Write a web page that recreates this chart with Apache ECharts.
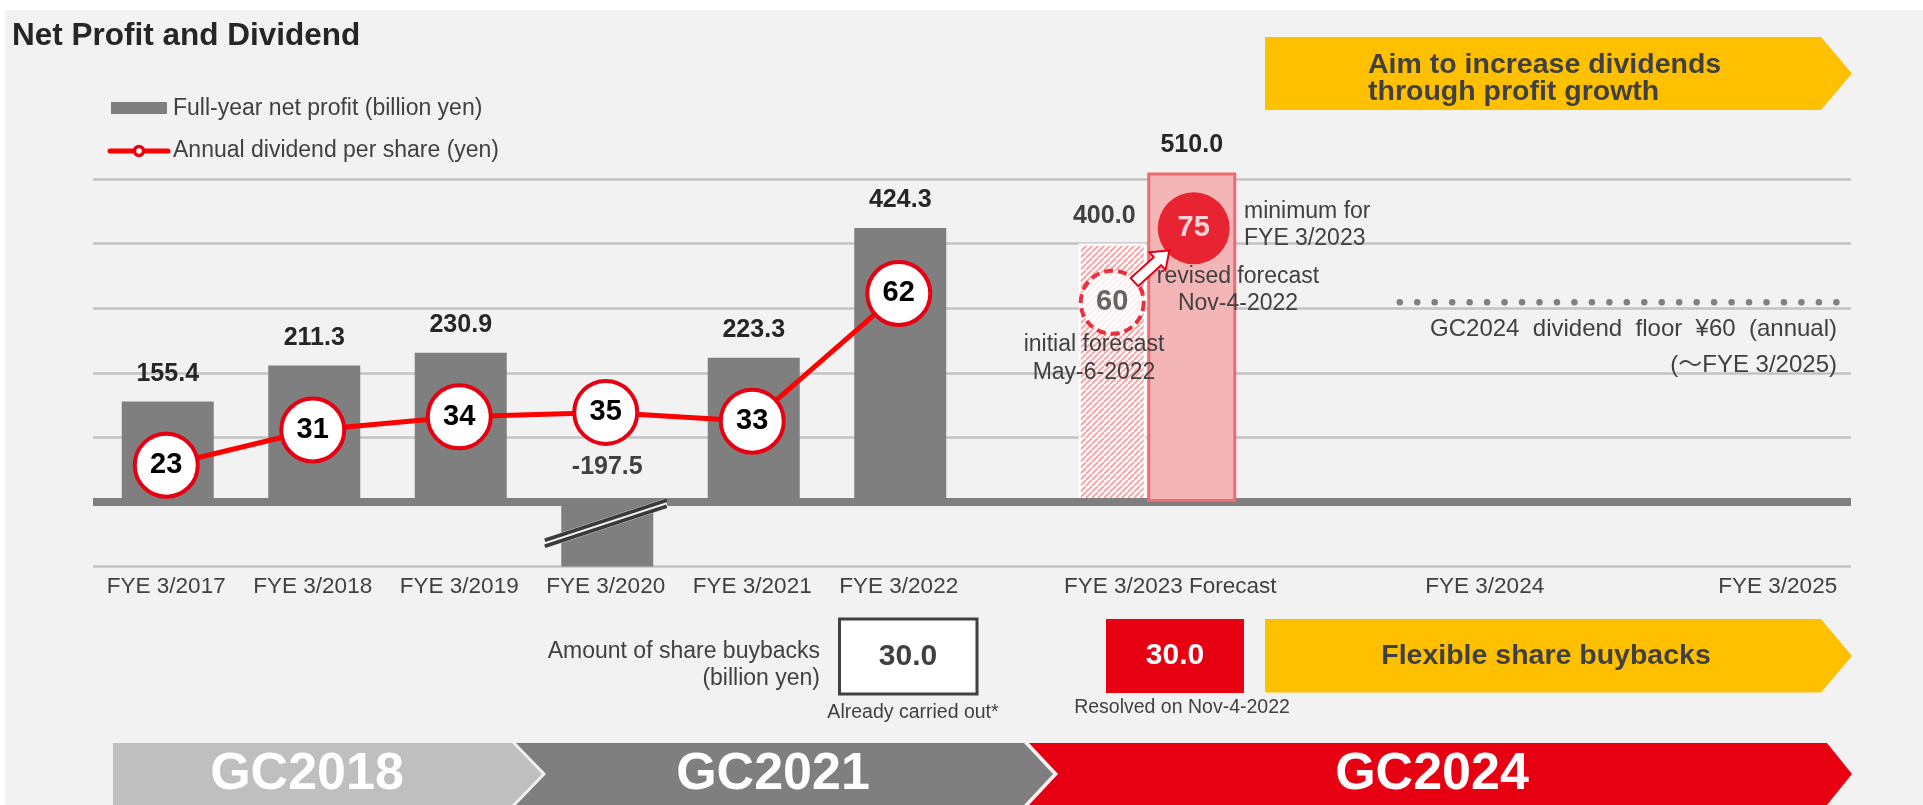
<!DOCTYPE html>
<html><head><meta charset="utf-8">
<script src="https://cdn.jsdelivr.net/npm/echarts@6/dist/echarts.min.js"></script>
<style>html,body{margin:0;padding:0;background:#fff;}#c{width:1923px;height:805px;}</style>
</head><body><div id="c"></div>
<script>
// ---------- data ----------
const categories = ['FYE 3/2017','FYE 3/2018','FYE 3/2019','FYE 3/2020','FYE 3/2021','FYE 3/2022','','FYE 3/2023 Forecast','','FYE 3/2024','','FYE 3/2025'];
const netProfit       = [155.4, 211.3, 230.9, -197.5, 223.3, 424.3, '-', '-', '-', '-', '-', '-'];
const profitRevised   = ['-', '-', '-', '-', '-', '-', '-', 510.0, '-', '-', '-', '-'];
const profitInitial   = ['-', '-', '-', '-', '-', '-', '-', 400.0, '-', '-', '-', '-'];
const dividend        = [23, 31, 34, 35, 33, 62, '-', '-', '-', '-', '-', '-'];
const dividendRevised = ['-', '-', '-', '-', '-', '-', '-', 75, '-', '-', '-', '-'];
const dividendInitial = ['-', '-', '-', '-', '-', '-', '-', 60, '-', '-', '-', '-'];
const dividendFloor = 60;
const buybackDone = 30.0;
const buybackResolved = 30.0;
const profitScale = {min: -100, max: 500, interval: 100};
const dividendScale = {min: 0, max: 88};
const periods = ['GC2018', 'GC2021', 'GC2024'];

// ---------- styles ----------
const FF = "'Liberation Sans', Arial, 'Noto Sans CJK JP', sans-serif";
const TXT = '#404040', DK = '#262626', RED = '#E60012';

function hatchPattern() {
  const s = 6, c = document.createElement('canvas');
  c.width = c.height = s;
  const g = c.getContext('2d');
  g.fillStyle = '#fff'; g.fillRect(0, 0, s, s);
  g.strokeStyle = '#F4A8AB'; g.lineWidth = 2;
  g.beginPath();
  for (const k of [-s, 0, s]) { g.moveTo(k, s); g.lineTo(k + s, 0); }
  g.stroke();
  return c;
}

const chart = echarts.init(document.getElementById('c'), null, {renderer: 'canvas'});
const gridBox = {top: 179, bottom: 238.5};
const profitData = netProfit.map(v => (typeof v === 'number' && v < 0)
  ? {value: v, label: {color: TXT, distance: 22}} : v);

const option = {
  animation: false,
  textStyle: {fontFamily: FF},
  grid: [
    {left: 93, right: 72, top: gridBox.top, bottom: gridBox.bottom},
    {left: 13.5, right: 151.5, top: gridBox.top, bottom: gridBox.bottom}
  ],
  xAxis: [
    {type: 'category', gridIndex: 0, data: categories,
     axisLine: {show: false}, axisTick: {show: false}, splitLine: {show: false},
     axisLabel: {interval: 0, margin: 9, fontSize: 22.5, color: TXT, fontFamily: FF,
       formatter: (v, i) => i === 7 ? '{s|' + v + '}' : v,
       rich: {s: {fontSize: 22.5, color: TXT, fontFamily: FF, padding: [0, 43, 0, 0]}}}},
    {type: 'category', gridIndex: 1, data: categories, show: false}
  ],
  yAxis: [
    {type: 'value', gridIndex: 0, min: profitScale.min, max: profitScale.max, interval: profitScale.interval,
     axisLabel: {show: false}, axisLine: {show: false}, axisTick: {show: false},
     splitLine: {lineStyle: {color: '#C3C3C3', width: 2.6}}},
    {type: 'value', gridIndex: 0, min: dividendScale.min, max: dividendScale.max, show: false, splitLine: {show: false}},
    {type: 'value', gridIndex: 1, min: profitScale.min, max: profitScale.max, show: false, splitLine: {show: false}},
    {type: 'value', gridIndex: 1, min: dividendScale.min, max: dividendScale.max, show: false, splitLine: {show: false}}
  ],
  series: [
    {name: 'Full-year net profit (billion yen)', type: 'bar', xAxisIndex: 1, yAxisIndex: 2, z: 1,
     data: profitInitial, barWidth: 67,
     itemStyle: {color: {image: hatchPattern(), repeat: 'repeat'}, borderColor: '#fff', borderWidth: 2},
     label: {show: true, position: 'top', distance: 15, offset: [-8, 0], fontSize: 25, fontWeight: 'bold', color: TXT,
             fontFamily: FF, formatter: p => Number(p.value).toFixed(1)}},
    {name: 'Full-year net profit (billion yen)', type: 'bar', xAxisIndex: 0, yAxisIndex: 0, z: 2,
     data: profitData, barWidth: 92, barGap: '-100%', clip: true,
     itemStyle: {color: '#7F7F7F'},
     label: {show: true, position: 'top', distance: 15, fontSize: 25, fontWeight: 'bold', color: DK,
             fontFamily: FF, formatter: p => Number(p.value).toFixed(1)},
     markLine: {silent: true, symbol: 'none', label: {show: false}, z: 3,
       lineStyle: {color: '#7F7F7F', width: 8, type: 'solid'}, data: [{yAxis: 0}]}},
    {name: 'revised', type: 'bar', xAxisIndex: 0, yAxisIndex: 0, z: 3,
     data: profitRevised, barWidth: 89, barGap: '-100%', clip: false,
     itemStyle: {color: '#F4B5B6', borderColor: '#EB6C71', borderWidth: 3},
     label: {show: true, position: 'top', distance: 15, fontSize: 25, fontWeight: 'bold', color: DK,
             fontFamily: FF, formatter: p => Number(p.value).toFixed(1)}},
    {name: 'Annual dividend per share (yen)', type: 'line', xAxisIndex: 0, yAxisIndex: 1, z: 6,
     data: dividend, symbol: 'circle', symbolSize: 63,
     lineStyle: {color: '#FF0000', width: 5},
     itemStyle: {color: '#fff', borderColor: RED, borderWidth: 4},
     label: {show: true, position: 'inside', fontSize: 29, fontWeight: 'bold', color: '#000', fontFamily: FF}},
    {name: 'initialDiv', type: 'scatter', xAxisIndex: 1, yAxisIndex: 3, z: 6,
     data: dividendInitial, symbol: 'circle', symbolSize: 63,
     itemStyle: {color: '#fff', borderColor: RED, borderWidth: 4, borderType: [9, 5]},
     label: {show: true, position: 'inside', fontSize: 29, fontWeight: 'bold', color: TXT, fontFamily: FF}},
    {name: 'revisedDiv', type: 'scatter', xAxisIndex: 0, yAxisIndex: 1, z: 7,
     data: dividendRevised, symbol: 'circle', symbolSize: 72, symbolOffset: [2, -8],
     itemStyle: {color: RED},
     label: {show: true, position: 'inside', fontSize: 29, fontWeight: 'bold', color: '#fff', fontFamily: FF}}
  ]
};
chart.setOption(option);

// ---------- annotations ----------
function T(x, y, text, o) {
  o = o || {};
  const size = o.size || 23, weight = o.weight || 'normal', al = o.align || 'left';
  return {type: 'text', x: x, y: y, z: o.z || 100, silent: true,
    style: {text: text, fill: o.color || TXT, font: weight + ' ' + size + 'px ' + FF,
      fontSize: size, fontWeight: weight, fontFamily: FF,
      align: al, textAlign: al, verticalAlign: 'middle', textVerticalAlign: 'middle',
      lineHeight: o.lh || Math.round(size * 1.15)}};
}
function poly(points, fill, z) {
  return {type: 'polygon', z: z || 90, silent: true, shape: {points: points}, style: {fill: fill}};
}

const g = [];
// background panel
g.push({type: 'rect', z: -100, silent: true, shape: {x: 5, y: 10, width: 1918, height: 795}, style: {fill: '#F2F2F2'}});
// title
g.push(T(12, 36, 'Net Profit and Dividend', {size: 31.5, weight: 'bold', color: DK}));
// legend
g.push({type: 'rect', z: 100, shape: {x: 111, y: 102, width: 56, height: 12}, style: {fill: '#7F7F7F'}});
g.push(T(173, 108.5, 'Full-year net profit (billion yen)'));
g.push({type: 'line', z: 100, shape: {x1: 110, y1: 151, x2: 168, y2: 151}, style: {stroke: '#FF0000', lineWidth: 5, lineCap: 'round'}});
g.push({type: 'circle', z: 101, shape: {cx: 139, cy: 151, r: 4.5}, style: {fill: '#fff', stroke: RED, lineWidth: 3.5}});
g.push(T(173, 151, 'Annual dividend per share (yen)'));

// break mark on the negative bar
const neg = netProfit.findIndex(v => typeof v === 'number' && v < 0);
const pb = chart.convertToPixel({seriesIndex: 1}, [neg, -33]);
const bx = 61, by = 20;
g.push({type: 'line', z: 50, shape: {x1: pb[0] - bx, y1: pb[1] + by, x2: pb[0] + bx, y2: pb[1] - by}, style: {stroke: '#F2F2F2', lineWidth: 10}});
g.push({type: 'line', z: 51, shape: {x1: pb[0] - bx, y1: pb[1] + by - 3, x2: pb[0] + bx, y2: pb[1] - by - 3}, style: {stroke: '#3A3A3A', lineWidth: 3.6}});
g.push({type: 'line', z: 51, shape: {x1: pb[0] - bx, y1: pb[1] + by + 3, x2: pb[0] + bx, y2: pb[1] - by + 3}, style: {stroke: '#3A3A3A', lineWidth: 3.6}});

// arrow from initial to revised dividend
const p60 = chart.convertToPixel({seriesIndex: 4}, [7, dividendInitial[7]]);
const p75r = chart.convertToPixel({seriesIndex: 5}, [7, dividendRevised[7]]);
const p75 = [p75r[0] + 2, p75r[1] - 8];
(function () {
  let dx = p75[0] - p60[0], dy = p75[1] - p60[1];
  const L = Math.hypot(dx, dy); const ux = dx / L, uy = dy / L, nx = -uy, ny = ux;
  const s = [p60[0] + ux * 30, p60[1] + uy * 30], e = [p75[0] - ux * 33, p75[1] - uy * 33];
  const HL = 16, hw = 5.5, HW = 12;
  const h = [e[0] - ux * HL, e[1] - uy * HL];
  const pts = [
    [s[0] + nx * hw, s[1] + ny * hw], [h[0] + nx * hw, h[1] + ny * hw], [h[0] + nx * HW, h[1] + ny * HW], e,
    [h[0] - nx * HW, h[1] - ny * HW], [h[0] - nx * hw, h[1] - ny * hw], [s[0] - nx * hw, s[1] - ny * hw]];
  g.push({type: 'polygon', z: 60, silent: true, shape: {points: pts}, style: {fill: '#fff', stroke: RED, lineWidth: 2, lineJoin: 'miter'}});
})();

// dividend annotations
g.push(T(1244, 225, 'minimum for\nFYE 3/2023', {lh: 26.6}));
g.push(T(1238, 290, 'revised forecast\nNov-4-2022', {align: 'center', lh: 26.6}));
g.push(T(1094, 358.5, 'initial forecast\nMay-6-2022', {align: 'center', lh: 27.5}));

// dividend floor dotted line (26 dots)
const x8 = chart.convertToPixel({xAxisIndex: 0}, 8), x9 = chart.convertToPixel({xAxisIndex: 0}, 9);
const step = x9 - x8;
const yFloor = chart.convertToPixel({yAxisIndex: 1}, dividendFloor);
const fx1 = x8 + 0.42 * step, fx2 = x8 + 3.40 * step, gap = (fx2 - fx1) / 25;
g.push({type: 'line', z: 40, silent: true, shape: {x1: fx1, y1: yFloor, x2: fx2 + 0.5, y2: yFloor},
  style: {stroke: '#808080', lineWidth: 6.5, lineCap: 'round', lineDash: [0.01, gap - 0.01]}});
g.push(T(1837, 347, 'GC2024  dividend  floor  ¥60  (annual)\n(～FYE 3/2025)', {size: 24, align: 'right', lh: 36}));

// top-right yellow arrow
g.push(poly([[1265, 37], [1821, 37], [1852, 73.5], [1821, 110], [1265, 110]], '#FFC000'));
g.push(T(1368, 78.5, 'Aim to increase dividends\nthrough profit growth', {size: 28.5, weight: 'bold', lh: 26.7}));

// buybacks row
g.push(T(820, 665, 'Amount of share buybacks\n(billion yen)', {align: 'right', lh: 26.5}));
g.push({type: 'rect', z: 90, silent: true, shape: {x: 839.5, y: 619, width: 137.5, height: 75}, style: {fill: '#fff', stroke: TXT, lineWidth: 3}});
g.push(T(908, 656.5, buybackDone.toFixed(1), {size: 30, weight: 'bold', align: 'center'}));
g.push(T(913, 713, 'Already carried out*', {size: 19.5, align: 'center'}));
g.push({type: 'rect', z: 90, silent: true, shape: {x: 1106, y: 619, width: 138, height: 74}, style: {fill: RED}});
g.push(T(1175, 656, buybackResolved.toFixed(1), {size: 30, weight: 'bold', align: 'center', color: '#fff'}));
g.push(T(1182, 708, 'Resolved on Nov-4-2022', {size: 19.5, align: 'center'}));
g.push(poly([[1265, 619], [1821, 619], [1852, 656], [1821, 692.5], [1265, 692.5]], '#FFC000'));
g.push(T(1546, 656, 'Flexible share buybacks', {size: 28.5, weight: 'bold', align: 'center'}));

// period bands
g.push(poly([[113, 743], [512, 743], [542, 774], [512, 805], [113, 805]], '#BFBFBF'));
g.push(poly([[516, 743], [1024, 743], [1053, 774], [1024, 805], [516, 805], [546, 774]], '#7F7F7F'));
g.push(poly([[1029, 743], [1827, 743], [1852, 774], [1827, 805], [1029, 805], [1058, 774]], RED));
g.push(T(307, 775, periods[0], {size: 52, weight: 'bold', align: 'center', color: '#fff'}));
g.push(T(773, 775, periods[1], {size: 52, weight: 'bold', align: 'center', color: '#fff'}));
g.push(T(1432, 775, periods[2], {size: 52, weight: 'bold', align: 'center', color: '#fff'}));

chart.setOption({graphic: g});
</script>
</body></html>
